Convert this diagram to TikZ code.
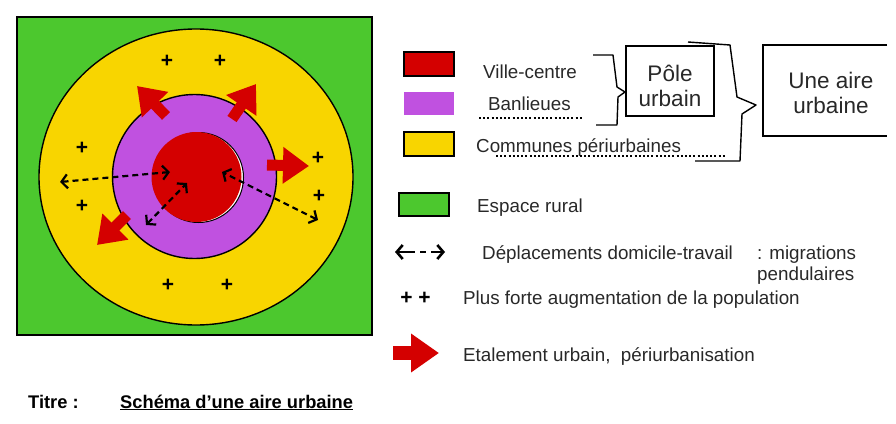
\documentclass[tikz,border=0pt]{standalone}
\usepackage{fontspec}
\setmainfont{Liberation Sans}
\usepackage{xcolor}
\usetikzlibrary{arrows.meta}
\definecolor{rural}{RGB}{76,200,46}
\definecolor{periurb}{RGB}{248,213,0}
\definecolor{banlieue}{RGB}{192,81,224}
\definecolor{centre}{RGB}{212,0,0}
\definecolor{txt}{RGB}{40,40,40}

\begin{document}
\begin{tikzpicture}[x=1pt,y=-1pt,
        zone/.style = {draw=black, line width=1.4pt},
        swatch/.style = {draw=black, line width=1.4pt, minimum width=50pt, minimum height=24pt, inner sep=0pt},
        legend/.style = {anchor=base west, inner sep=0pt, text=txt, font=\fontsize{18.8}{22}\selectfont},
        big/.style = {anchor=base, inner sep=0pt, text=txt, font=\fontsize{22.5}{26}\selectfont},
        titre/.style = {anchor=base west, inner sep=0pt, font=\fontsize{18.3}{22}\selectfont\bfseries},
        plus/.style = {inner sep=0pt, font=\fontsize{21}{21}\selectfont\bfseries},
        sprawl/.style = {centre, line width=11pt, -{Triangle[length=26pt,width=35pt]}},
        commute/.style = {line width=2.2pt, dash pattern=on 6pt off 4pt,
            {Straight Barb[length=6pt,width=14pt]}-{Straight Barb[length=6pt,width=14pt]}},
        dots/.style = {line width=1.6pt, dash pattern=on 2pt off 2.2pt},
        brace/.style = {line width=1.4pt, line join=round},
        box/.style = {draw=black, line width=1.4pt}
    ]
    \useasboundingbox (0,0) rectangle (896,423);
    % the map
    \draw[zone, fill=rural] (17,17) rectangle (372,335);
    \draw[zone, fill=periurb] (196,177) ellipse [x radius=157, y radius=148];
    \draw[zone, fill=banlieue] (194.5,176.5) circle [radius=82];
    \draw[line width=1pt, fill=white] (198.5,177.5) circle [radius=45];
    \fill[centre] (196.5,177) circle [radius=45];
    \foreach \x/\y [count=\i] in {167/61, 220/61, 82/148, 82/206, 318/158, 319/196, 168/285, 227/285}
        \node[plus] (plus\i) at (\x,\y) {+};
    % etalement urbain
    \coordinate (s1) at (166,116); \coordinate (t1) at (137,86);
    \coordinate (s2) at (232,119); \coordinate (t2) at (256,84);
    \coordinate (s3) at (267,165); \coordinate (t3) at (309,166);
    \coordinate (s4) at (127,215); \coordinate (t4) at (97,245);
    \foreach \i in {1,...,4}
        \draw[sprawl] (s\i) -- (t\i);
    % migrations pendulaires
    \coordinate (m1) at (60,182); \coordinate (n1) at (170,172);
    \coordinate (m2) at (146,225); \coordinate (n2) at (187,183);
    \coordinate (m3) at (318,220); \coordinate (n3) at (222,172);
    \foreach \i in {1,2,3}
        \draw[commute] (m\i) -- (n\i);

    % legend
    \node[swatch, fill=centre] (sw-centre) at (429,64) {};
    \node[swatch, fill=banlieue, draw=none, minimum height=23pt] (sw-banlieue) at (429,103.5) {};
    \node[swatch, fill=periurb] (sw-periurb) at (429,144) {};
    \node[swatch, fill=rural, minimum height=23pt] (sw-rural) at (424,204.5) {};
    \node[legend] (l-centre) at (483,78) {Ville-centre};
    \node[legend] (l-banlieue) at (488,110) {Banlieues};
    \node[legend] (l-periurb) at (476,152) {Communes périurbaines};
    \draw[dots] (479,118) -- (582,118);
    \draw[dots] (496,156) -- (725,156);
    \draw[brace] (593,55) -- (613,55) -- (617,87) -- (625,92) -- (618,97) -- (617,125) -- (596,125);
    \node[box, minimum width=88pt, minimum height=70pt] (pole) at (670,81) {};
    \node[big] (pole-a) at (670,81) {Pôle};
    \node[big] (pole-b) at (670,106) {urbain};
    \draw[brace] (688,42) -- (730,45) -- (737,97) -- (756,105) -- (742,114) -- (740,161) -- (695,161);
    \draw[box] (887,45) -| (763,136) -- (887,136);
    \node[big] (aire-a) at (831,88) {Une aire};
    \node[big] (aire-b) at (831,113) {urbaine};

    \node[legend] (l-rural) at (477,212) {Espace rural};
    \coordinate (lm1) at (395,252); \coordinate (lm2) at (445,252);
    \draw[line width=2.6pt, dash pattern=on 17pt off 5pt on 6pt off 5pt on 20pt,
        {Straight Barb[length=6pt,width=14pt]}-{Straight Barb[length=6pt,width=14pt]}] (lm1) -- (lm2);
    \node[legend] (l-depl) at (482,259) {Déplacements domicile-travail};
    \node[legend] (l-migr) at (757,259) {: migrations};
    \node[legend] (l-pend) at (757,280) {pendulaires};
    \node[plus] (l-plus) at (415.5,298) {+ +};
    \node[legend] (l-pop) at (463,304) {Plus forte augmentation de la population};
    \coordinate (la1) at (393,353); \coordinate (la2) at (439,353);
    \draw[centre, line width=14pt, -{Triangle[length=28pt,width=37pt]}] (la1) -- (la2);
    \node[legend] (l-etal) at (463,361) {Etalement urbain,\ \ périurbanisation};

    % title
    \node[titre] (titre) at (28,408) {Titre :};
    \node[titre] (nom) at (120,408) {\underline{Schéma d’une aire urbaine}};
\end{tikzpicture}
\end{document}
